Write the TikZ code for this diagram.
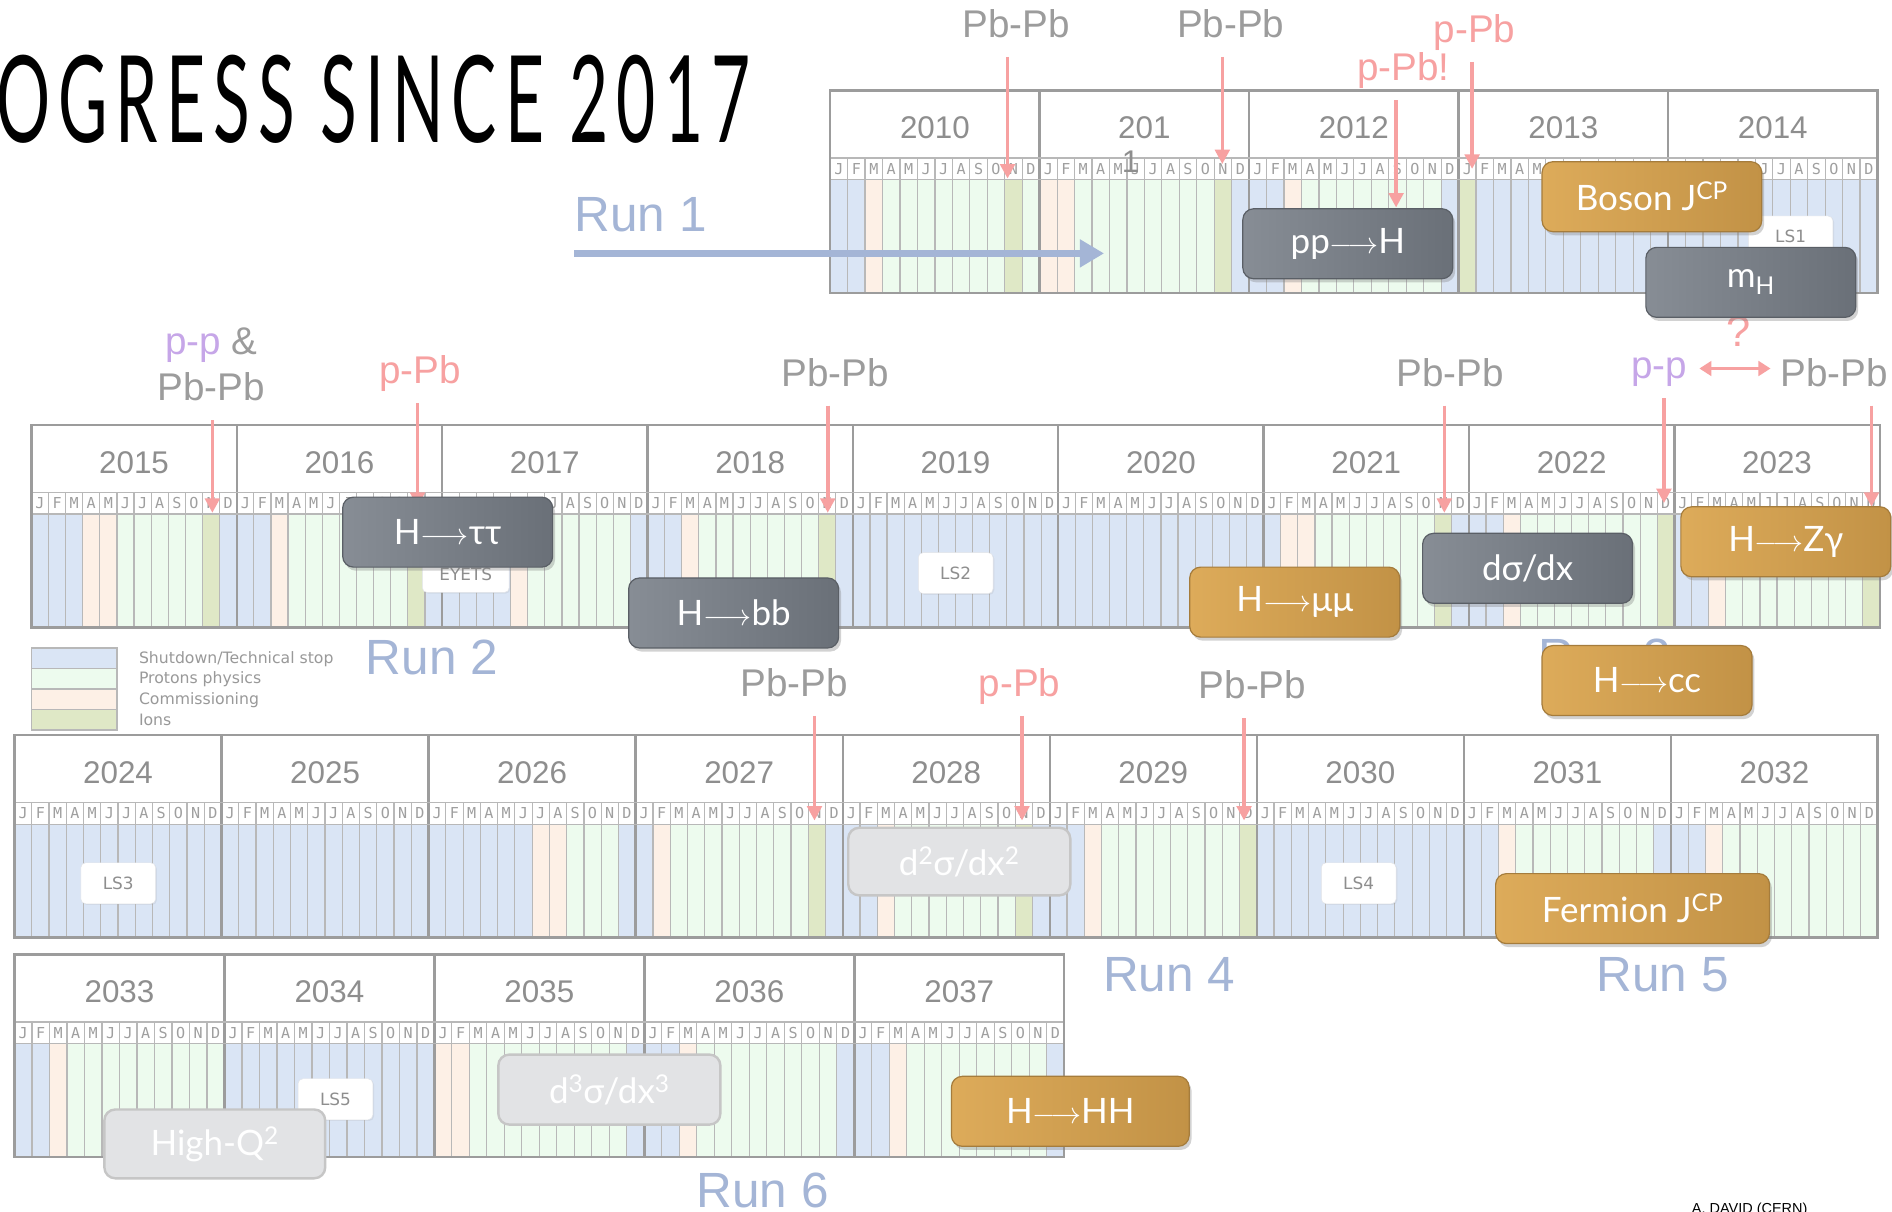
\documentclass[tikz,border=0pt]{standalone}
\usepackage{graphicx}
\usepackage{fontspec}
\setmainfont{Lato}
\newfontfamily\titlefont[LetterSpace=12]{Lato}
\newfontfamily\yearfont{Liberation Sans}
\newfontfamily\monthfont{DejaVu Sans Mono}
\newfontfamily\legendfont{DejaVu Sans}
\usepackage{tikz}
\usetikzlibrary{arrows.meta,shadows}

\definecolor{mB}{HTML}{DAE5F5}
\definecolor{mP}{HTML}{EDFBEE}
\definecolor{mC}{HTML}{FDF0E6}
\definecolor{mI}{HTML}{DFE8C6}
\definecolor{gridgray}{HTML}{B8B8B8}
\definecolor{yeargray}{HTML}{9C9C9C}
\definecolor{txtgray}{HTML}{8E8E8E}
\definecolor{salmon}{HTML}{F7A1A1}
\definecolor{lavender}{HTML}{C6A6E8}
\definecolor{runblue}{HTML}{A4B5D6}
\definecolor{darkL}{HTML}{878D95}
\definecolor{darkR}{HTML}{6A7078}
\definecolor{goldL}{HTML}{DDAB5A}
\definecolor{goldR}{HTML}{C29246}
\definecolor{paleL}{HTML}{E2E3E5}

% one row of the schedule: left x, top y, year width, years/month codes, right x
\newcommand{\schedrow}[5]{%
  \foreach \yr/\codes [count=\k from 0] in {#4} {
    \pgfmathsetmacro{\xa}{#1+\k*#3}
    \foreach \c [count=\m from 0] in \codes
      \fill[m\c] ({\xa+\m*#3/12},#2+74) rectangle ({\xa+(\m+1)*#3/12},#2+168);
    \foreach \ml [count=\m from 0] in {J,F,M,A,M,J,J,A,S,O,N,D} {
      \draw[gridgray,line width=1pt] ({\xa+\m*#3/12},#2+56) -- ({\xa+\m*#3/12},#2+168);
      \node[monthlbl] (m\yr-\m) at ({\xa+(\m+0.5)*#3/12},#2+65) {\ml};
    }
    \node[yearlbl] (y\yr) at ({\xa+#3/2},#2+40) {\yr};
    \draw[yeargray,line width=2pt] (\xa,#2) -- (\xa,#2+168);
  }
  \draw[gridgray,line width=1pt] (#1,#2+56) -- (#5,#2+56) (#1,#2+74) -- (#5,#2+74);
  \draw[yeargray,line width=2pt] (#1,#2) rectangle (#5,#2+168);
}

\begin{document}
\begin{tikzpicture}[x=1pt,y=-1pt,
  monthlbl/.style={font=\monthfont\fontsize{12.5}{12.5}\selectfont,text=txtgray!85,inner sep=0pt},
  yearlbl/.style={font=\yearfont\fontsize{26}{28}\selectfont,text=txtgray,inner sep=0pt,anchor=base},
  legtxt/.style={font=\legendfont\fontsize{13}{13}\selectfont,text=txtgray!90,inner sep=0pt,anchor=west},
  lsbox/.style={draw=mB!60!gray!40,fill=white,rounded corners=4pt,minimum width=62pt,minimum height=34pt,
    inner sep=0pt,font=\legendfont\fontsize{14}{14}\selectfont,text=txtgray,
    drop shadow={opacity=0.12,shadow xshift=1pt,shadow yshift=-1pt}},
  result/.style={rounded corners=9pt,minimum width=174pt,minimum height=58pt,inner sep=0pt,
    text=white,font=\fontsize{29}{30}\selectfont},
  darkres/.style={result,left color=darkL,right color=darkR,draw=darkR!85!black,line width=1pt,
    drop shadow={opacity=0.35,shadow xshift=2pt,shadow yshift=-3pt}},
  goldres/.style={result,left color=goldL,right color=goldR,draw=goldR!85!black,line width=1pt,
    drop shadow={opacity=0.35,shadow xshift=2pt,shadow yshift=-3pt}},
  paleres/.style={result,fill=paleL,draw=gridgray!80,line width=2pt},
  coll/.style={font=\yearfont\fontsize{32}{38}\selectfont,text=yeargray,inner sep=1pt,anchor=base,text depth=0pt},
  pPb/.style={coll,text=salmon},
  runlbl/.style={font=\yearfont\fontsize{41}{41}\selectfont,text=runblue,inner sep=0pt},
  collarrow/.style={draw=salmon,line width=3pt,-{Triangle[length=12pt,width=12pt]},shorten <=15pt},
  runarrow/.style={draw=runblue,line width=6pt,-{Triangle[length=20pt,width=22pt]}}]

\useasboundingbox (0,0) rectangle (1568,1004);
\fill[white] (0,0) rectangle (1568,1004);

% schedule rows
\schedrow{688}{75}{173.6}{2010/{B,B,C,P,P,P,P,P,P,P,I,P}, 201/{C,C,P,P,P,P,P,P,P,P,I,B},
  2012/{B,B,C,P,P,P,P,P,P,P,P,B}, 2013/{I,B,B,B,B,B,B,B,B,B,B,B}, 2014/{B,B,B,B,B,B,B,B,B,B,B,B}}{1556}
\node[yearlbl] (y2011b) at (937,143) {1};
\schedrow{26}{352}{170.2}{2015/{B,B,B,C,C,P,P,P,P,P,I,B}, 2016/{B,B,C,P,P,P,P,P,P,P,I,B},
  2017/{B,B,B,B,C,P,P,P,P,P,P,B}, 2018/{B,B,C,P,P,P,P,P,P,P,I,B}, 2019/{B,B,B,B,B,B,B,B,B,B,B,B},
  2020/{B,B,B,B,B,B,B,B,B,B,B,B}, 2021/{B,C,C,P,P,P,P,P,P,P,I,B}, 2022/{B,B,C,P,P,P,P,P,P,P,P,I},
  2023/{B,B,C,P,P,P,P,P,P,P,P,I}}{1558}
\schedrow{12}{609}{171.6}{2024/{B,B,B,B,B,B,B,B,B,B,B,B}, 2025/{B,B,B,B,B,B,B,B,B,B,B,B},
  2026/{B,B,B,B,B,B,C,C,P,P,P,B}, 2027/{B,C,P,P,P,P,P,P,P,P,I,B}, 2028/{B,B,C,P,P,P,P,P,P,P,I,B},
  2029/{B,B,C,P,P,P,P,P,P,P,P,I}, 2030/{B,B,B,B,B,B,B,B,B,B,B,B}, 2031/{B,B,C,P,P,P,P,P,P,P,P,B},
  2032/{B,B,C,P,P,P,P,P,P,P,P,P}}{1556}
\schedrow{12}{791}{174}{2033/{B,B,C,P,P,P,P,P,P,P,P,P}, 2034/{B,B,B,B,B,B,B,B,B,B,B,B},
  2035/{C,C,P,P,P,P,P,P,P,P,P,B}, 2036/{B,B,C,P,P,P,P,P,P,P,P,B}, 2037/{B,B,C,P,P,P,P,P,P,P,P,B}}{882}

% legend
\foreach \c/\t [count=\i from 0] in {B/{Shutdown/Technical stop}, P/Protons physics, C/Commissioning, I/Ions} {
  \filldraw[fill=m\c,draw=gridgray,line width=1.2pt] (26,537+17*\i) rectangle (97,554+17*\i);
  \node[legtxt] (leg\c) at (115,546+17*\i) {\t};
}

% shutdown tags
\node[lsbox,minimum width=70pt] (lsone) at (1484,196) {LS1};
\node[lsbox,minimum width=72pt,minimum height=30pt] (eyets) at (386,476) {EYETS};
\node[lsbox] (lstwo) at (792,475) {LS2};
\node[lsbox] (lsthree) at (98,732) {LS3};
\node[lsbox] (lsfour) at (1126,732) {LS4};
\node[lsbox] (lsfive) at (278,911) {LS5};

% runs
\node[runlbl] (runone) at (531,178) {Run 1};
\coordinate (runoneend) at (915,210);
\draw[runarrow] (runone.south west |- runoneend) -- (runoneend);
\node[runlbl] (runtwo) at (358,545) {Run 2};
\node[runlbl] (runthree) at (1330,544) {Run 3};
\node[runlbl] (runfour) at (969,808) {Run 4};
\node[runlbl] (runfive) at (1378,808) {Run 5};
\node[runlbl] (runsix) at (632,987) {Run 6};

% collision systems
\node[coll] (clA) at (842,31) {Pb-Pb};
\node[coll] (clB) at (1020,31) {Pb-Pb};
\node[pPb] (clC) at (1163,67) {p-Pb!};
\node[pPb] (clD) at (1222,35) {p-Pb};
\node[coll,anchor=center,align=center] (clE) at (175,302) {{\color{lavender}p-p} \&\\Pb-Pb};
\node[pPb] (clF) at (348,318) {p-Pb};
\node[coll] (clG) at (692,320) {Pb-Pb};
\node[coll] (clH) at (1202,320) {Pb-Pb};
\node[coll,text=lavender] (clI) at (1375,314) {p-p};
\node[coll] (clJ) at (1520,320) {Pb-Pb};
\node[pPb,anchor=center,font=\yearfont\fontsize{36}{36}\selectfont] (qmark) at (1441,275) {?};
\node[coll] (clK) at (658,577) {Pb-Pb};
\node[pPb] (clL) at (845,577) {p-Pb};
\node[coll] (clM) at (1038,579) {Pb-Pb};

\coordinate (tA) at (835,148);
\coordinate (tB) at (1013,136);
\coordinate (tC) at (1157,172);
\coordinate (tD) at (1220,140);
\coordinate (tE) at (176,425);
\coordinate (tF) at (346,420);
\coordinate (tG) at (686,425);
\coordinate (tH) at (1197,425);
\coordinate (tI) at (1379,417);
\coordinate (tJ) at (1551,420);
\coordinate (tK) at (675,680);
\coordinate (tL) at (847,680);
\coordinate (tM) at (1031,680);

\foreach \a/\b in {clA/tA, clB/tB, clC/tC, clD/tD, clE/tE, clF/tF, clG/tG, clH/tH, clI/tI, clJ/tJ, clK/tK, clL/tL, clM/tM}
  \draw[collarrow] (\a.south -| \b) -- (\b);
\draw[collarrow,{Triangle[length=10pt,width=12pt]}-{Triangle[length=10pt,width=12pt]},shorten <=9pt,shorten >=7pt]
  (clI.east) -- (clI.east -| clJ.west);

% results
\node[darkres] (ppH) at (1117,202) {pp$\longrightarrow$H};
\node[goldres,minimum width=182pt] (bosonJ) at (1369,163) {Boson J\textsuperscript{CP}};
\node[darkres] (mH) at (1451,234) {m\textsubscript{H}};
\node[darkres] (Htautau) at (371,441) {H$\longrightarrow$ττ};
\node[darkres] (Hbb) at (608,508) {H$\longrightarrow$bb};
\node[goldres] (Hmumu) at (1073,499) {H$\longrightarrow$μμ};
\node[darkres] (dsig) at (1266,471) {dσ/dx};
\node[goldres] (HZg) at (1480,449) {H$\longrightarrow$Zγ};
\node[goldres] (Hcc) at (1365,564) {H$\longrightarrow$cc};
\node[paleres,minimum width=184pt,minimum height=56pt] (dsigtwo) at (795,714) {d\textsuperscript{2}σ/dx\textsuperscript{2}};
\node[goldres,minimum width=227pt] (fermionJ) at (1353,753) {Fermion J\textsuperscript{CP}};
\node[paleres,minimum width=184pt] (dsigthree) at (505,903) {d\textsuperscript{3}σ/dx\textsuperscript{3}};
\node[goldres,minimum width=197pt] (HHH) at (887,921) {H$\longrightarrow$HH};
\node[paleres,minimum width=183pt,minimum height=57pt] (highQ) at (178,948) {High-Q\textsuperscript{2}};

% title and credit
\node[anchor=base east,inner sep=0pt] (title) at (622,118)
  {\titlefont\fontsize{100}{100}\selectfont\scalebox{0.56}[1]{PROGRESS SINCE 2017}};
\node[anchor=north,inner sep=0pt,font=\yearfont\fontsize{12}{12}\selectfont] (credit) at (1450,997) {A. DAVID (CERN)};
\end{tikzpicture}
\end{document}
